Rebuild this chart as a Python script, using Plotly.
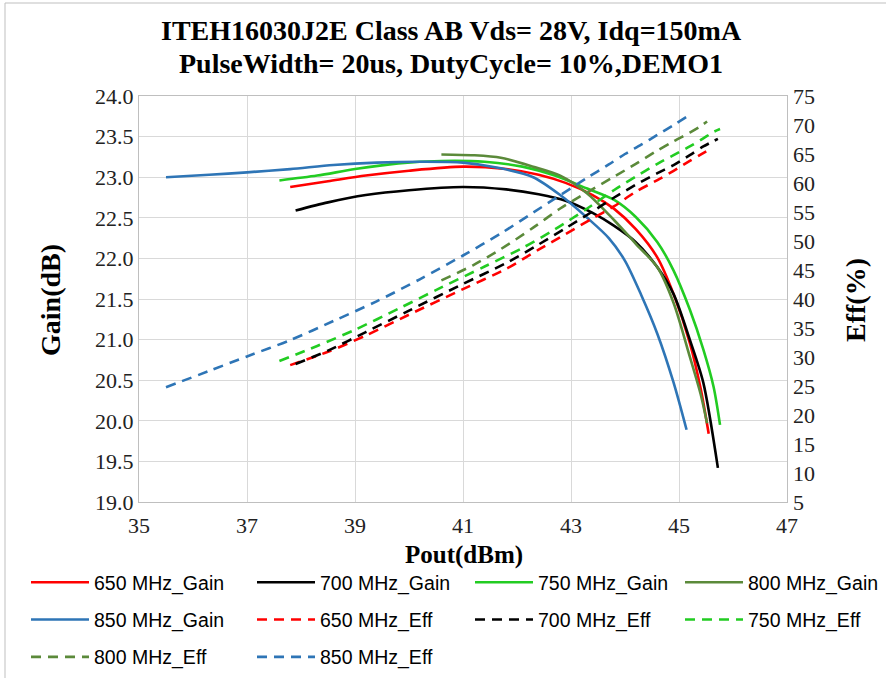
import plotly.graph_objects as go

# ---- data ----
pout_650 = [37.8, 38.5, 39.2, 40.0, 41.0, 41.8, 42.4, 42.9, 43.4, 43.8, 44.2, 44.6, 44.9, 45.2, 45.4, 45.55]
gain_650 = [22.88, 22.95, 23.02, 23.08, 23.13, 23.10, 23.03, 22.93, 22.78, 22.61, 22.36, 22.01, 21.56, 20.96, 20.40, 19.84]
eff_650 = [28.6, 30.9, 33.7, 37.3, 41.7, 45.2, 48.5, 51.2, 53.9, 56.0, 58.5, 60.5, 62.1, 63.8, 64.9, 65.7]

pout_700 = [37.9, 38.5, 39.2, 40.0, 41.0, 41.8, 42.4, 42.9, 43.4, 43.8, 44.2, 44.6, 44.9, 45.2, 45.45, 45.72]
gain_700 = [22.59, 22.69, 22.78, 22.84, 22.88, 22.85, 22.79, 22.71, 22.56, 22.40, 22.20, 21.89, 21.56, 21.00, 20.47, 19.42]
eff_700 = [28.8, 31.1, 34.3, 38.0, 42.6, 46.2, 49.4, 52.2, 55.1, 57.5, 59.7, 61.7, 63.1, 64.8, 66.3, 67.6]

pout_750 = [37.6, 38.3, 39.0, 39.8, 40.6, 41.4, 42.1, 42.7, 43.3, 43.8, 44.2, 44.6, 44.9, 45.2, 45.45, 45.64, 45.76]
gain_750 = [22.96, 23.02, 23.10, 23.17, 23.20, 23.19, 23.13, 23.02, 22.86, 22.72, 22.51, 22.20, 21.85, 21.37, 20.88, 20.42, 19.95]
eff_750 = [29.3, 31.9, 34.7, 38.3, 42.0, 45.6, 48.8, 52.0, 55.6, 58.8, 61.1, 63.3, 64.8, 66.3, 67.7, 68.8, 69.3]

pout_800 = [40.6, 41.2, 41.7, 42.3, 42.8, 43.3, 43.8, 44.2, 44.6, 44.9, 45.2, 45.4, 45.52]
gain_800 = [23.28, 23.27, 23.24, 23.13, 23.02, 22.80, 22.47, 22.18, 21.89, 21.45, 20.79, 20.33, 19.97]
eff_800 = [43.2, 45.9, 48.6, 52.3, 55.6, 58.4, 61.1, 63.3, 65.6, 67.2, 68.7, 69.8, 70.6]

pout_850 = [35.5, 36.3, 37.0, 37.8, 38.6, 39.4, 40.2, 41.0, 41.7, 42.3, 42.8, 43.3, 43.7, 44.0, 44.3, 44.6, 44.9, 45.14]
gain_850 = [23.00, 23.03, 23.06, 23.10, 23.15, 23.18, 23.19, 23.18, 23.11, 23.00, 22.78, 22.50, 22.25, 21.97, 21.55, 21.07, 20.47, 19.89]
eff_850 = [24.8, 27.6, 30.1, 32.9, 36.2, 39.6, 43.4, 47.5, 51.3, 54.9, 57.9, 60.9, 63.2, 65.0, 66.6, 68.3, 70.0, 71.4]

freqs = ["650 MHz", "700 MHz", "750 MHz", "800 MHz", "850 MHz"]
colors = ["#FF0000", "#000000", "#22CC22", "#5B8A3A", "#2E75B6"]
pouts = [pout_650, pout_700, pout_750, pout_800, pout_850]
gains = [gain_650, gain_700, gain_750, gain_800, gain_850]
effs = [eff_650, eff_700, eff_750, eff_800, eff_850]

title_lines = ["ITEH16030J2E Class AB Vds= 28V, Idq=150mA",
               "PulseWidth= 20us, DutyCycle= 10%,DEMO1"]
x_title = "Pout(dBm)"
y_title = "Gain(dB)"
y2_title = "Eff(%)"

# legend laid out in 4 columns (row-major, like the reference)
legend_names = ["legend", "legend2", "legend3", "legend4"]

fig = go.Figure()
k = 0
for f, c, x, g in zip(freqs, colors, pouts, gains):
    fig.add_trace(go.Scatter(x=x, y=g, mode="lines", name=f + "_Gain",
                             line=dict(color=c, width=2.6, shape="spline", smoothing=0.8),
                             yaxis="y", legend=legend_names[k % 4], legendgroup="g%d" % k))
    k += 1
for f, c, x, e in zip(freqs, colors, pouts, effs):
    fig.add_trace(go.Scatter(x=x, y=e, mode="lines", name=f + "_Eff",
                             line=dict(color=c, width=2.6, dash="10px,7px", shape="spline", smoothing=0.8),
                             yaxis="y2", legend=legend_names[k % 4], legendgroup="g%d" % k))
    k += 1

serif = "Liberation Serif, Times New Roman, serif"
sans = "Liberation Sans, Arial, sans-serif"
grid = "#D9D9D9"

L, R, T, B = 139, 787, 96, 502
W, H = R - L, B - T


def px(xp):
    return (xp - L) / W


def py(yp):
    return (B - yp) / H


legend_common = dict(orientation="v", yanchor="top", y=py(563), xanchor="left",
                     font=dict(family=sans, size=19.5, color="#000"), itemwidth=58,
                     tracegroupgap=9, bgcolor="rgba(0,0,0,0)", itemclick=False,
                     itemdoubleclick=False)
col_x = [26, 252, 470, 680]

fig.update_layout(
    width=886, height=678,
    margin=dict(l=L, r=886 - R, t=T, b=678 - B, autoexpand=False),
    paper_bgcolor="white", plot_bgcolor="white",
    showlegend=True,
    xaxis=dict(range=[35, 47], dtick=2, tick0=35, showgrid=True, gridcolor=grid, gridwidth=1,
               showline=True, linecolor="#BFBFBF", linewidth=1, mirror=True, zeroline=False,
               ticks="", ticklabelstandoff=4, tickfont=dict(family=serif, size=22, color="#222")),
    yaxis=dict(range=[19, 24], dtick=0.5, tick0=19, tickformat=".1f", showgrid=True, gridcolor=grid,
               showline=True, linecolor="#BFBFBF", linewidth=1, mirror=True, zeroline=False,
               ticks="", tickfont=dict(family=serif, size=22, color="#222")),
    yaxis2=dict(range=[5, 75], dtick=5, tick0=5, overlaying="y", side="right", showgrid=False,
                zeroline=False, ticks="", ticklabelstandoff=5,
                tickfont=dict(family=serif, size=22, color="#222")),
    legend=dict(x=px(col_x[0]), **legend_common),
    legend2=dict(x=px(col_x[1]), **legend_common),
    legend3=dict(x=px(col_x[2]), **legend_common),
    legend4=dict(x=px(col_x[3]), **legend_common),
)

fig.add_annotation(text="<b>" + title_lines[0] + "</b>", xref="paper", yref="paper",
                   x=px(451), y=py(30), xanchor="center", yanchor="middle", showarrow=False,
                   font=dict(family=serif, size=28, color="#000"))
fig.add_annotation(text="<b>" + title_lines[1] + "</b>", xref="paper", yref="paper",
                   x=px(451), y=py(63), xanchor="center", yanchor="middle", showarrow=False,
                   font=dict(family=serif, size=28, color="#000"))
fig.add_annotation(text="<b>" + x_title + "</b>", xref="paper", yref="paper",
                   x=px(464), y=py(555), xanchor="center", yanchor="middle", showarrow=False,
                   font=dict(family=serif, size=25, color="#000"))
fig.add_annotation(text="<b>" + y_title + "</b>", xref="paper", yref="paper", textangle=-90,
                   x=px(50), y=py(300), xanchor="center", yanchor="middle", showarrow=False,
                   font=dict(family=serif, size=28, color="#000"))
fig.add_annotation(text="<b>" + y2_title + "</b>", xref="paper", yref="paper", textangle=-90,
                   x=px(855), y=py(300), xanchor="center", yanchor="middle", showarrow=False,
                   font=dict(family=serif, size=28, color="#000"))

fig.add_shape(type="rect", xref="paper", yref="paper",
              x0=px(5), x1=px(895), y0=py(690), y1=py(3),
              line=dict(color="#BFBFBF", width=1), fillcolor="rgba(0,0,0,0)", layer="below")

fig.write_html("out.html", config={"displayModeBar": False},
               post_script="document.body.style.margin='0px';")
